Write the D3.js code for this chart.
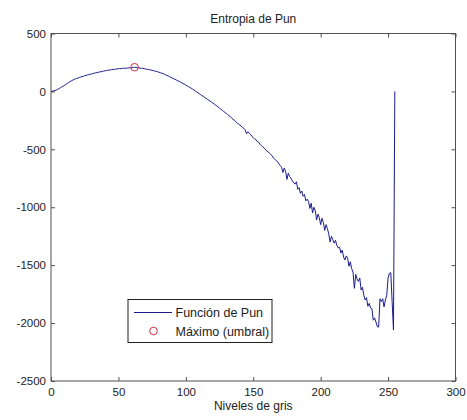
<!DOCTYPE html>
<html><head><meta charset="utf-8">
<script src="https://cdn.jsdelivr.net/npm/d3@7"></script>
<style>
body{margin:0;background:#fff;}
svg{display:block;}
text{font-family:"Liberation Sans",Arial,sans-serif;fill:#222;}
</style></head>
<body><svg id="c" width="467" height="420"></svg>
<script>
// Entropía de Pun, niveles de gris 0..255
const punValues = [
0,2,5,8,12,18,25,32,38,45,
52,60,68,76,84,90,96,102,108,112,
116,120,124,128,131,135,139,142,145,148,
151,154,157,160,162,165,168,170,172,175,
178,180,182,184,186,188,190,189,193,195,
196,197,196,199,200,201,199,203,204,202,
205,207,209,206,204,205,201,199,200,196,
194,192,190,187,185,182,180,176,173,170,
166,162,158,154,148,143,138,133,127,121,
115,110,104,98,93,87,81,74,68,62,
55,48,41,34,27,20,12,4,-4,-12,
-20,-28,-36,-44,-52,-60,-68,-76,-84,-92,
-100,-109,-118,-126,-135,-145,-154,-163,-172,-181,
-190,-200,-210,-218,-230,-240,-248,-262,-270,-282,
-290,-298,-312,-318,-332,-365,-348,-360,-370,-388,
-398,-410,-416,-432,-438,-455,-468,-478,-488,-500,
-515,-520,-535,-545,-555,-575,-585,-598,-605,-625,
-640,-655,-700,-662,-690,-760,-705,-735,-750,-772,
-790,-800,-780,-845,-830,-880,-860,-905,-890,-945,
-930,-950,-1010,-965,-1050,-1000,-1030,-1110,-1060,-1090,
-1150,-1095,-1130,-1200,-1150,-1185,-1230,-1300,-1250,-1280,
-1310,-1285,-1330,-1350,-1345,-1395,-1370,-1430,-1455,-1420,
-1440,-1510,-1470,-1530,-1560,-1700,-1580,-1620,-1640,-1610,
-1715,-1690,-1760,-1800,-1780,-1855,-1830,-1870,-1875,-1975,
-1955,-1990,-2030,-2035,-1790,-1815,-1790,-1860,-1800,-1760,
-1610,-1570,-1565,-1815,-2060,0
];
const punLevels = punValues.map((v,i)=>i);
const maxPoint = [62, 209];
const xTicks = [0,50,100,150,200,250,300];
const yTicks = [500,0,-500,-1000,-1500,-2000,-2500];
const titleText = "Entropia de Pun";
const xLabel = "Niveles de gris";
const legendLabels = ["Función de Pun","Máximo (umbral)"];

const svg = d3.select("#c");
const L=51, R=455.5, T=33.5, B=381;
const x = d3.scaleLinear().domain([0,300]).range([L,R]);
const y = d3.scaleLinear().domain([-2500,500]).range([B,T]);
const axisCol = "#505050";
const fmt = d => String(d);

svg.append("rect").attr("x",0).attr("y",0).attr("width",467).attr("height",420).attr("fill","#fff");

function styleAxis(g){
  g.select(".domain").remove();
  g.selectAll(".tick line").attr("stroke",axisCol);
  g.selectAll(".tick text").attr("font-size","11.5px").attr("fill","#222")
   .attr("font-family",'"Liberation Sans",Arial,sans-serif');
}
svg.append("g").attr("transform",`translate(0,${B})`)
  .call(d3.axisBottom(x).tickValues(xTicks).tickSize(-4).tickPadding(7).tickFormat(fmt)).call(styleAxis);
svg.append("g").attr("transform",`translate(0,${T})`)
  .call(d3.axisTop(x).tickValues(xTicks).tickSize(-4).tickFormat("")).call(styleAxis);
svg.append("g").attr("transform",`translate(${L},0)`)
  .call(d3.axisLeft(y).tickValues(yTicks).tickSize(-4).tickPadding(5).tickFormat(fmt)).call(styleAxis);
svg.append("g").attr("transform",`translate(${R},0)`)
  .call(d3.axisRight(y).tickValues(yTicks).tickSize(-4).tickFormat("")).call(styleAxis);

svg.append("rect").attr("x",L).attr("y",T).attr("width",R-L).attr("height",B-T)
  .attr("fill","none").attr("stroke",axisCol).attr("stroke-width",1);

const line = d3.line().x((d,i)=>x(punLevels[i])).y(d=>y(d));
svg.append("path").datum(punValues).attr("d",line)
  .attr("fill","none").attr("stroke","#1c1c8e").attr("stroke-width",1);

svg.append("circle").attr("cx",x(maxPoint[0])).attr("cy",y(maxPoint[1])).attr("r",3.8)
  .attr("fill","none").attr("stroke","#d03040").attr("stroke-width",1);

svg.append("text").attr("x",(L+R)/2).attr("y",23).attr("text-anchor","middle")
  .attr("font-size","12px").text(titleText);
svg.append("text").attr("x",(L+R)/2).attr("y",410).attr("text-anchor","middle")
  .attr("font-size","12px").text(xLabel);

// legend
const lg = svg.append("g");
lg.append("rect").attr("x",128).attr("y",299.5).attr("width",144).attr("height",43)
  .attr("fill","#fff").attr("stroke","#222").attr("stroke-width",1);
lg.append("line").attr("x1",134).attr("x2",172).attr("y1",312.5).attr("y2",312.5)
  .attr("stroke","#1c1c8e").attr("stroke-width",1);
lg.append("circle").attr("cx",153.5).attr("cy",331).attr("r",3.8)
  .attr("fill","none").attr("stroke","#d03040").attr("stroke-width",1);
lg.selectAll("text.lt").data(legendLabels).join("text").attr("class","lt")
  .attr("x",175.5).attr("y",(d,i)=>317+i*19).attr("font-size","12.5px").text(d=>d);
</script></body></html>
